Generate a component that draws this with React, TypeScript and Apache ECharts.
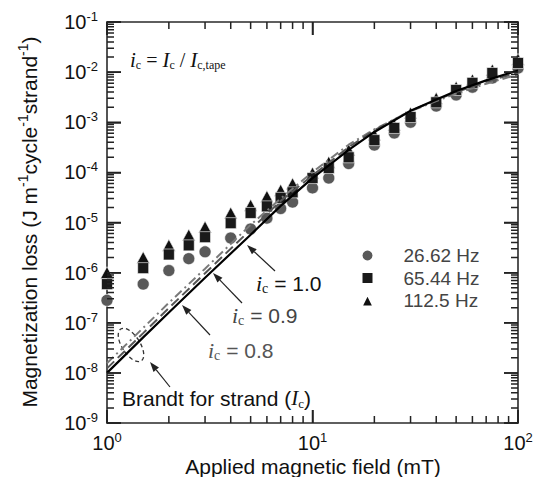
import React, { useEffect, useRef } from "react";
import * as echarts from "echarts";

// ---- data ----
const fields = [1, 1.5, 2, 2.5, 3, 4, 5, 6, 7, 8, 10, 12, 15, 20, 25, 30, 40, 50, 60, 75, 100];
const loss2662 = [2.8e-7, 5.9e-7, 1.1e-6, 1.9e-6, 2.6e-6, 4.9e-6, 7.4e-6, 1.22e-5, 1.9e-5, 2.55e-5, 4.9e-5, 7.7e-5, 1.5e-4, 3.5e-4, 6.1e-4, 1.0e-3, 2.1e-3, 3.5e-3, 5.0e-3, 7.6e-3, 1.2e-2];
const loss6544 = [5.9e-7, 1.23e-6, 2.3e-6, 3.5e-6, 5.1e-6, 9.7e-6, 1.55e-5, 2.1e-5, 3.1e-5, 4.0e-5, 7.7e-5, 1.22e-4, 2.0e-4, 4.4e-4, 7.7e-4, 1.27e-3, 2.5e-3, 4.4e-3, 6.1e-3, 9.6e-3, 1.52e-2];
const loss1125 = [1.0e-6, 2.0e-6, 3.5e-6, 5.6e-6, 8.1e-6, 1.54e-5, 2.2e-5, 3.3e-5, 4.4e-5, 5.9e-5, 9.7e-5, 1.6e-4, 2.8e-4, 5.6e-4, 8.8e-4, 1.53e-3, 3.0e-3, 5.0e-3, 7.0e-3, 1.1e-2, 1.8e-2];

const curveFields = [1, 1.5, 2, 3, 5, 7, 10, 15, 20, 30, 50, 70, 100];
const brandtIc10 = [1.0e-8, 5.1e-8, 1.6e-7, 7.9e-7, 5.7e-6, 2.15e-5, 7.7e-5, 2.8e-4, 6.4e-4, 1.69e-3, 4.2e-3, 6.85e-3, 1.08e-2];
const brandtIc09 = [1.23e-8, 6.2e-8, 1.97e-7, 9.7e-7, 7.2e-6, 2.7e-5, 8.7e-5, 3.19e-4, 6.9e-4, 1.69e-3, 4.0e-3, 6.4e-3, 9.9e-3];
const brandtIc08 = [1.56e-8, 7.9e-8, 2.5e-7, 1.2e-6, 9.0e-6, 3.0e-5, 1.01e-4, 3.57e-4, 7.2e-4, 1.67e-3, 3.75e-3, 5.86e-3, 9.0e-3];

const seriesNames = ["26.62 Hz", "65.44 Hz", "112.5 Hz"];
const xRange = [1, 100];
const yRange = [1e-9, 1e-1];
const xMajor = [1, 10, 100];
const yMajor = [1e-9, 1e-8, 1e-7, 1e-6, 1e-5, 1e-4, 1e-3, 1e-2, 1e-1];
const minorMultipliers = [2, 3, 4, 5, 6, 7, 8, 9];

const SANS = "'Liberation Sans', Arial, Helvetica, sans-serif";
const SERIF = "'Liberation Serif', 'Times New Roman', serif";

function decadesMinor(lo: number, hi: number) {
  const out: number[] = [];
  for (let e = Math.round(Math.log10(lo)); e < Math.round(Math.log10(hi)); e++) {
    for (const m of minorMultipliers) out.push(m * Math.pow(10, e));
  }
  return out;
}

function arrow(x1: number, y1: number, x2: number, y2: number, color = "#222") {
  const ang = Math.atan2(y2 - y1, x2 - x1);
  const L = 10, W = 3.5;
  const bx = x2 - L * Math.cos(ang), by = y2 - L * Math.sin(ang);
  const px = -Math.sin(ang) * W, py = Math.cos(ang) * W;
  return [
    { type: "line", silent: true, shape: { x1, y1, x2: bx, y2: by }, style: { stroke: color, lineWidth: 1.2 } },
    { type: "polygon", silent: true, shape: { points: [[x2, y2], [bx + px, by + py], [bx - px, by - py]] }, style: { fill: color } },
  ];
}

function icLabel(x: number, y: number, val: string, color: string) {
  return {
    type: "text", x, y, silent: true,
    style: {
      text: `{it|i}{sub|c}{n| = ${val}}`,
      align: "left", verticalAlign: "middle",
      rich: {
        it: { fontFamily: SERIF, fontStyle: "italic", fontSize: 22, fill: color, lineHeight: 24, verticalAlign: "middle" },
        sub: { fontFamily: SERIF, fontSize: 14, fill: color, lineHeight: 14, verticalAlign: "bottom" },
        n: { fontFamily: SANS, fontSize: 21, fill: color, lineHeight: 24, verticalAlign: "middle" },
      },
    },
  };
}

const powLabel = (v: number) => {
  const e = Math.round(Math.log10(v));
  return `{b|10}{s|${e}}`;
};
const powRich = {
  b: { fontFamily: SANS, fontSize: 20, color: "#111", lineHeight: 24, verticalAlign: "middle" },
  s: { fontFamily: SANS, fontSize: 13, color: "#111", lineHeight: 12, verticalAlign: "top" },
};

const TICK_COLOR = "#222";
const mkAxisLine = () => ({ show: true, onZero: false, lineStyle: { color: "#2a2a2a", width: 1.6 } });
const mkTick = (len: number) => ({ show: true, inside: true, length: len, lineStyle: { color: TICK_COLOR, width: 1.5 } });

export default function App() {
  const ref = useRef<HTMLDivElement>(null);
  useEffect(() => {
    if (!ref.current) return;
    const chart = echarts.init(ref.current, undefined, { renderer: "svg" });

    const graphics: any[] = [
      {
        type: "text", x: 130, y: 60, silent: true,
        style: {
          text: "{it|i}{sub|c}{n| = }{it|I}{sub|c}{n| / }{it|I}{sub|c,tape}",
          align: "left", verticalAlign: "middle",
          rich: {
            it: { fontFamily: SERIF, fontStyle: "italic", fontSize: 21, fill: "#111", lineHeight: 22, verticalAlign: "middle" },
            sub: { fontFamily: SERIF, fontSize: 12, fill: "#111", lineHeight: 12, verticalAlign: "bottom" },
            n: { fontFamily: SERIF, fontSize: 20, fill: "#111", lineHeight: 22, verticalAlign: "middle" },
          },
        },
      },
      icLabel(256, 283, "1.0", "#111"),
      icLabel(232, 315, "0.9", "#444"),
      icLabel(208, 350, "0.8", "#555"),
      ...arrow(275, 271, 247, 245),
      ...arrow(242, 303, 213, 273),
      ...arrow(210, 335, 182, 305),
      ...arrow(170, 387, 150, 362),
      {
        type: "ellipse", x: 131, y: 345, rotation: 0.57, silent: true,
        shape: { cx: 0, cy: 0, rx: 9, ry: 19 },
        style: { fill: "none", stroke: "#333", lineWidth: 1.3, lineDash: [4, 3] },
      },
      {
        type: "text", x: 122, y: 398, silent: true,
        style: {
          text: "{n|Brandt for strand (}{it|I}{sub|c}{n|)}",
          align: "left", verticalAlign: "middle",
          rich: {
            n: { fontFamily: SANS, fontSize: 21, fill: "#111", lineHeight: 24, verticalAlign: "middle" },
            it: { fontFamily: SERIF, fontStyle: "italic", fontSize: 21, fill: "#111", lineHeight: 24, verticalAlign: "middle" },
            sub: { fontFamily: SERIF, fontSize: 13, fill: "#111", lineHeight: 13, verticalAlign: "bottom" },
          },
        },
      },
      {
        type: "text", x: 313, y: 466, silent: true,
        style: {
          text: "Applied magnetic field (mT)", align: "center", verticalAlign: "middle",
          fontFamily: SANS, fontSize: 21, fill: "#111",
        },
      },
      {
        type: "text", x: 29, y: 222, rotation: Math.PI / 2, silent: true,
        style: {
          text: "{n|Magnetization loss (J m}{s|-1}{n|cycle}{s|-1}{n|strand}{s|-1}{n|)}",
          align: "center", verticalAlign: "middle",
          rich: {
            n: { fontFamily: SANS, fontSize: 21, fill: "#111", lineHeight: 26, verticalAlign: "middle" },
            s: { fontFamily: SANS, fontSize: 14, fill: "#111", lineHeight: 14, verticalAlign: "top" },
          },
        },
      },
    ];

    const markerStyle = { borderColor: "#fff", borderWidth: 0.6, opacity: 1 };

    chart.setOption({
      animation: false,
      backgroundColor: "#fff",
      grid: { left: 107, right: 21, top: 22, bottom: 54, containLabel: false },
      xAxis: [
        {
          type: "log", logBase: 10, min: xRange[0], max: xRange[1], splitNumber: 2, position: "bottom",
          axisLine: mkAxisLine(), splitLine: { show: false }, axisTick: mkTick(13),
          axisLabel: { show: true, margin: 8, formatter: powLabel, rich: powRich, showMinLabel: true, showMaxLabel: true },
        },
        {
          type: "log", logBase: 10, min: xRange[0], max: xRange[1], splitNumber: 2, position: "top",
          axisLine: mkAxisLine(), splitLine: { show: false }, axisTick: mkTick(13),
          axisLabel: { show: false },
        },
      ],
      yAxis: [
        {
          type: "log", logBase: 10, min: yRange[0], max: yRange[1], splitNumber: 8, position: "left",
          axisLine: mkAxisLine(), splitLine: { show: false }, axisTick: mkTick(14),
          axisLabel: { show: true, margin: 9, formatter: powLabel, rich: powRich, showMinLabel: true, showMaxLabel: true },
        },
        {
          type: "log", logBase: 10, min: yRange[0], max: yRange[1], splitNumber: 8, position: "right",
          axisLine: mkAxisLine(), splitLine: { show: false }, axisTick: mkTick(14),
          axisLabel: { show: false },
        },
      ],
      legend: {
        orient: "vertical", left: 360.5, top: 246, padding: 0, itemGap: 3.5,
        itemWidth: 12, itemHeight: 12, selectedMode: false,
        data: seriesNames,
        itemStyle: { opacity: 1 },
        textStyle: { fontFamily: SANS, fontSize: 19, color: "#444", lineHeight: 19, padding: [0, 0, 0, 25] },
      },
      graphic: graphics,
      series: [
        {
          type: "scatter", name: seriesNames[0], symbol: "circle", symbolSize: 12, z: 2,
          itemStyle: { color: "#595959", ...markerStyle },
          data: fields.map((f, i) => [f, loss2662[i]]),
        },
        {
          type: "scatter", name: seriesNames[2], symbol: "triangle", symbolSize: [13, 12], z: 3,
          itemStyle: { color: "#111", ...markerStyle },
          data: fields.map((f, i) => [f, loss1125[i]]),
        },
        {
          type: "scatter", name: seriesNames[1], symbol: "rect", symbolSize: 11, z: 4,
          itemStyle: { color: "#1a1a1a", ...markerStyle },
          data: fields.map((f, i) => [f, loss6544[i]]),
        },
        {
          type: "line", name: "ic0.8", showSymbol: false, z: 6, silent: true,
          lineStyle: { color: "#7a7a7a", width: 2, type: [9, 4, 2, 4] },
          data: curveFields.map((f, i) => [f, brandtIc08[i]]),
        },
        {
          type: "line", name: "ic0.9", showSymbol: false, z: 6, silent: true,
          lineStyle: { color: "#555", width: 2, type: [10, 5] },
          data: curveFields.map((f, i) => [f, brandtIc09[i]]),
        },
        {
          type: "line", name: "ic1.0", showSymbol: false, z: 7, silent: true,
          lineStyle: { color: "#000", width: 2.2 },
          data: curveFields.map((f, i) => [f, brandtIc10[i]]),
        },
      ],
    });

    // log ticks (major + minor) as line-series segments, lengths converted through the axis scales
    const fx = (p: number) => chart.convertFromPixel({ xAxisIndex: 0 }, p) as number;
    const fy = (p: number) => chart.convertFromPixel({ yAxisIndex: 0 }, p) as number;
    const px = (v: number) => chart.convertToPixel({ xAxisIndex: 0 }, v) as number;
    const py = (v: number) => chart.convertToPixel({ yAxisIndex: 0 }, v) as number;
    const left = px(xRange[0]), right = px(xRange[1]);
    const bottom = py(yRange[0]), top = py(yRange[1]);
    const tickData: any[] = [];
    const GAP = ["-", "-"];
    const addX = (v: number, len: number) => {
      tickData.push([v, yRange[0]], [v, fy(bottom - len)], GAP);
      tickData.push([v, yRange[1]], [v, fy(top + len)], GAP);
    };
    const addY = (v: number, len: number) => {
      tickData.push([xRange[0], v], [fx(left + len), v], GAP);
      tickData.push([xRange[1], v], [fx(right - len), v], GAP);
    };
    if ([left, right, top, bottom].every((n) => isFinite(n))) {
      decadesMinor(xRange[0], xRange[1]).forEach((v) => addX(v, 7));
      decadesMinor(yRange[0], yRange[1]).forEach((v) => addY(v, 7));
      xMajor.forEach((v) => addX(v, 13));
      yMajor.forEach((v) => addY(v, 14));
    }
    chart.setOption({
      series: [
        {}, {}, {}, {}, {}, {},
        {
          type: "line", name: "ticks", showSymbol: false, silent: true, z: 9,
          connectNulls: false, clip: false,
          lineStyle: { color: TICK_COLOR, width: 1.5, type: "solid" },
          emphasis: { disabled: true },
          data: tickData,
        },
      ],
    });

    return () => chart.dispose();
  }, []);
  return <div ref={ref} style={{ position: "fixed", left: 0, top: 0, width: 539, height: 477, background: "#fff" }} />;
}
